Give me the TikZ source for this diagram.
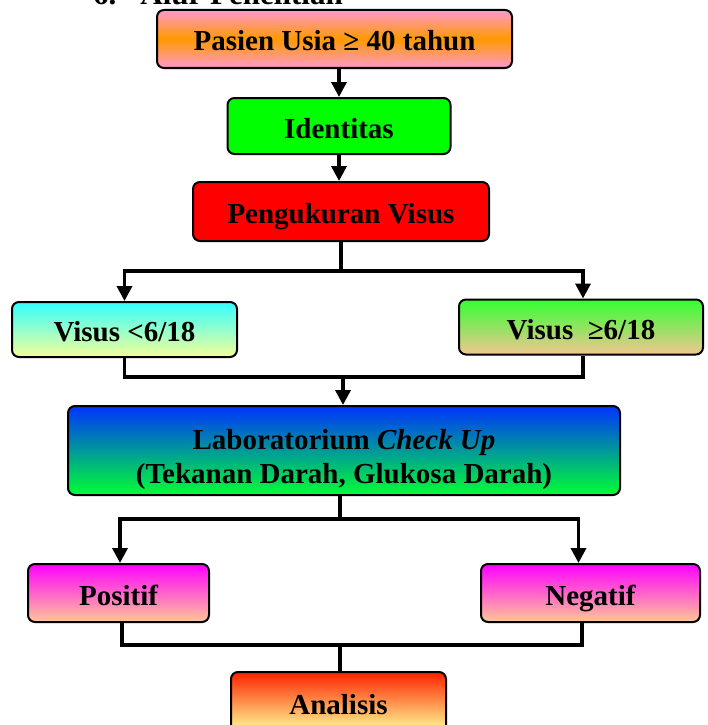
\documentclass[tikz,border=0pt]{standalone}
\usepackage{fontspec}
\setmainfont{Liberation Serif}
\usetikzlibrary{arrows.meta,positioning,calc}
\definecolor{BoxPink}{HTML}{FF99CC}
\definecolor{BoxOrange}{HTML}{FF9900}
\definecolor{BoxGreen}{HTML}{00FF00}
\definecolor{BoxRed}{HTML}{FF0000}
\definecolor{BoxCyan}{HTML}{33FFFF}
\definecolor{BoxCream}{HTML}{F5FF99}
\definecolor{BoxLime}{HTML}{33FF33}
\definecolor{BoxTan}{HTML}{F2C690}
\definecolor{BoxBlue}{HTML}{0033FF}
\definecolor{BoxSea}{HTML}{00FF33}
\definecolor{BoxMagenta}{HTML}{FF00FF}
\definecolor{BoxPeach}{HTML}{FFC896}
\definecolor{BoxScarlet}{HTML}{FF2200}
\definecolor{BoxYellow}{HTML}{FFFF99}

\begin{document}
\begin{tikzpicture}[
    x=1pt,y=-1pt,
    flowbox/.style={
        draw=black,
        line width=2pt,
        rounded corners=7pt,
        align=center,
        inner sep=0pt,
        text height=26pt,
        text depth=2pt,
        font=\fontsize{29}{32}\selectfont\bfseries,
    },
    flowarrow/.style={
        -{Triangle[length=15pt,width=15pt]},
        line width=3.5pt,
    },
    flowline/.style={
        line width=3.5pt,
    },
]
\useasboundingbox (0,0) rectangle (707,725);

\node[anchor=base west,inner sep=0pt,font=\fontsize{31}{34}\selectfont\bfseries] (judul) at (93,5) {6.\hspace{24pt}Alur Penelitian};

\node[flowbox,minimum width=355,minimum height=58,top color=BoxPink,bottom color=BoxPink,middle color=BoxOrange] (pasien) at (334.5,39) {Pasien Usia ≥ 40 tahun};

\node[flowbox,minimum width=223,minimum height=56,fill=BoxGreen] (ident) at (339,126) {Identitas};

\node[flowbox,minimum width=296,minimum height=59,fill=BoxRed] (ukur) at (341,211.5) {Pengukuran Visus};

\node[flowbox,minimum width=225,minimum height=55,top color=BoxCyan,bottom color=BoxCream] (vkurang) at (124.5,329.5) {Visus <6/18};

\node[flowbox,minimum width=244,minimum height=55,top color=BoxLime,bottom color=BoxTan] (vlebih) at (581,327) {Visus\ \ ≥6/18};

\node[flowbox,text height={},text depth={},minimum width=552,minimum height=89,top color=BoxBlue,bottom color=BoxSea] (lab) at (344,450.5) {%
    \rule{0pt}{38pt}Laboratorium \textit{Check Up}\\[2pt]
    (Tekanan Darah, Glukosa Darah)};

\node[flowbox,minimum width=181,minimum height=58,top color=BoxMagenta,bottom color=BoxPeach] (pos) at (118.5,593) {Positif};

\node[flowbox,minimum width=219,minimum height=58,top color=BoxMagenta,bottom color=BoxPeach] (neg) at (590.5,593) {Negatif};

\node[flowbox,minimum width=215,minimum height=60,top color=BoxScarlet,bottom color=BoxYellow] (anal) at (338.5,702) {Analisis};

\coordinate (cabang1) at (341,271);
\coordinate (gabung1) at (343,377);
\coordinate (cabang2) at (340,519);
\coordinate (gabung2) at (340,645);

\draw[flowarrow] (ident.north |- pasien.south) -- (ident.north);
\draw[flowarrow] (ident.south) -- (ukur.north -| ident.south);

\draw[flowline] (ukur.south) -- (cabang1);
\draw[flowarrow] (cabang1) -| (vkurang.north);
\draw[flowarrow] (cabang1) -| ([xshift=2pt]vlebih.north);

\draw[flowline] (vkurang.south) |- (gabung1) -| ([xshift=2pt]vlebih.south);
\draw[flowarrow] (gabung1) -- (lab.north -| gabung1);

\draw[flowline] (lab.south -| cabang2) -- (cabang2);
\draw[flowarrow] (cabang2) -| ([xshift=1.5pt]pos.north);
\draw[flowarrow] (cabang2) -| ([xshift=-12pt]neg.north);

\draw[flowline] ([xshift=3.5pt]pos.south) |- (gabung2) -| ([xshift=-8.5pt]neg.south);
\draw[flowline] (gabung2) -- (anal.north -| gabung2);
\end{tikzpicture}
\end{document}
